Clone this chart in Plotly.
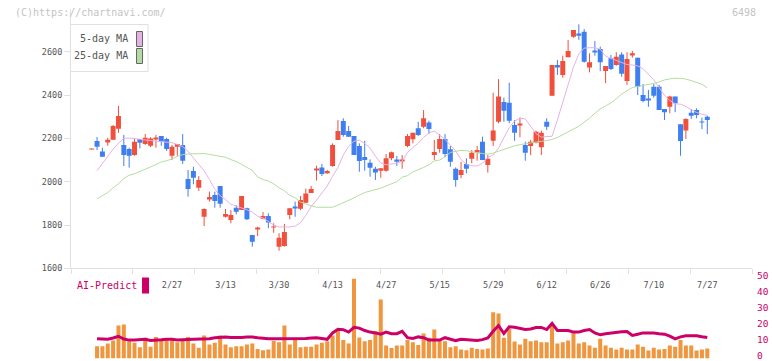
import plotly.graph_objects as go

# ---------------- data ----------------
opens = [2149, 2188, 2139, 2185, 2194, 2245, 2170, 2151, 2123, 2197,
         2174, 2166, 2196, 2211, 2197, 2120, 2162, 2170, 2012, 2049,
         1972, 1838, 1921, 1939, 1980, 1838, 1823, 1880, 1869, 1877,
         1754, 1781, 1829, 1842, 1789, 1700, 1703, 1846, 1885, 1875,
         1903, 1948, 2054, 2066, 2039, 2073, 2193, 2280, 2234, 2211,
         2165, 2114, 2088, 2060, 2051, 2051, 2108, 2103, 2096, 2165,
         2196, 2247, 2254, 2273, 2123, 2151, 2197, 2150, 2060, 2031,
         2082, 2106, 2134, 2185, 2077, 2189, 2277, 2368, 2365, 2262,
         2264, 2170, 2165, 2180, 2159, 2277, 2397, 2539, 2493, 2575,
         2670, 2685, 2693, 2527, 2604, 2613, 2511, 2570, 2539, 2588,
         2465, 2585, 2573, 2400, 2382, 2439, 2439, 2336, 2346, 2393,
         2265, 2236, 2319, 2331, 2276, 2300]
highs = [2153, 2206, 2157, 2203, 2262, 2350, 2216, 2157, 2197, 2197,
         2220, 2206, 2216, 2211, 2203, 2170, 2174, 2220, 2054, 2069,
         2026, 1877, 1954, 1954, 1980, 1874, 1869, 1892, 1934, 1880,
         1754, 1792, 1860, 1854, 1808, 1762, 1805, 1877, 1908, 1934,
         1968, 1980, 2074, 2082, 2054, 2177, 2285, 2293, 2257, 2211,
         2177, 2189, 2103, 2069, 2062, 2128, 2139, 2119, 2123, 2220,
         2226, 2277, 2331, 2282, 2193, 2220, 2220, 2165, 2066, 2092,
         2108, 2146, 2165, 2208, 2123, 2411, 2474, 2388, 2457, 2285,
         2297, 2185, 2193, 2236, 2236, 2293, 2539, 2562, 2582, 2655,
         2701, 2727, 2705, 2593, 2650, 2624, 2534, 2585, 2598, 2598,
         2598, 2604, 2573, 2451, 2424, 2451, 2447, 2336, 2397, 2393,
         2265, 2293, 2336, 2339, 2296, 2305]
lows = [2149, 2146, 2115, 2166, 2194, 2226, 2072, 2065, 2120, 2154,
        2170, 2160, 2157, 2166, 2142, 2100, 2120, 2082, 1931, 1988,
        1957, 1795, 1908, 1880, 1880, 1834, 1808, 1849, 1869, 1823,
        1700, 1749, 1826, 1785, 1764, 1681, 1700, 1826, 1838, 1869,
        1903, 1948, 2005, 2026, 2036, 2069, 2193, 2208, 2208, 2123,
        2046, 2051, 2023, 2008, 2018, 2046, 2099, 2073, 2060, 2159,
        2177, 2211, 2247, 2220, 2100, 2134, 2113, 2069, 1977, 2016,
        2039, 2085, 2097, 2100, 2042, 2165, 2270, 2277, 2270, 2189,
        2205, 2097, 2123, 2177, 2123, 2239, 2397, 2493, 2480, 2575,
        2665, 2655, 2550, 2505, 2582, 2511, 2455, 2516, 2536, 2485,
        2447, 2573, 2400, 2367, 2346, 2388, 2331, 2285, 2316, 2321,
        2120, 2197, 2290, 2293, 2243, 2220]
closes = [2153, 2162, 2115, 2194, 2257, 2303, 2123, 2120, 2185, 2180,
          2203, 2200, 2203, 2185, 2151, 2162, 2174, 2097, 1966, 2018,
          2008, 1874, 1929, 1911, 1898, 1851, 1846, 1861, 1934, 1826,
          1723, 1785, 1842, 1811, 1792, 1741, 1768, 1877, 1877, 1915,
          1946, 1966, 2057, 2036, 2049, 2170, 2234, 2216, 2208, 2123,
          2096, 2100, 2065, 2042, 2062, 2108, 2136, 2092, 2103, 2211,
          2226, 2216, 2293, 2243, 2137, 2197, 2128, 2092, 2008, 2054,
          2060, 2134, 2146, 2100, 2106, 2236, 2393, 2328, 2282, 2226,
          2267, 2134, 2185, 2231, 2226, 2254, 2539, 2527, 2558, 2604,
          2701, 2674, 2554, 2552, 2598, 2552, 2534, 2521, 2577, 2499,
          2567, 2593, 2439, 2373, 2376, 2397, 2331, 2321, 2393, 2362,
          2188, 2290, 2305, 2308, 2274, 2285]

ma5 = [None, 2051, 2085, 2118, 2150, 2178, 2200, 2202, 2200, 2195,
       2193, 2190, 2188, 2186, 2185, 2180, 2172, 2163, 2140, 2110,
       2085, 2050, 2010, 1965, 1935, 1918, 1896, 1888, 1878, 1870,
       1860, 1840, 1832, 1815, 1800, 1791, 1791, 1791, 1795, 1810,
       1845, 1885, 1915, 1945, 1980, 2025, 2066, 2123, 2163, 2187,
       2192, 2177, 2155, 2118, 2086, 2078, 2082, 2085, 2095, 2135,
       2158, 2178, 2205, 2225, 2234, 2217, 2196, 2168, 2142, 2102,
       2080, 2073, 2073, 2085, 2113, 2123, 2155, 2203, 2250, 2280,
       2294, 2290, 2258, 2222, 2206, 2208, 2210, 2285, 2370, 2450,
       2530, 2590, 2617, 2619, 2619, 2612, 2580, 2570, 2560, 2548,
       2541, 2539, 2535, 2522, 2495, 2470, 2435, 2400, 2375, 2360,
       2358, 2348, 2333, 2320, 2312, 2306]
ma25 = [None, 1921, 1936, 1950, 1972, 1990, 2015, 2030, 2037, 2046,
        2058, 2068, 2080, 2091, 2097, 2105, 2117, 2125, 2128, 2129,
        2130, 2130, 2126, 2121, 2117, 2113, 2102, 2093, 2080, 2066,
        2052, 2022, 2010, 2003, 1990, 1972, 1958, 1937, 1926, 1906,
        1896, 1889, 1882, 1882, 1882, 1882, 1892, 1902, 1913, 1925,
        1938, 1950, 1957, 1963, 1970, 1980, 1990, 2000, 2021, 2028,
        2045, 2054, 2066, 2078, 2096, 2100, 2115, 2135, 2140, 2145,
        2143, 2138, 2133, 2130, 2127, 2132, 2141, 2150, 2158, 2166,
        2171, 2176, 2180, 2183, 2186, 2190, 2195, 2204, 2218, 2233,
        2243, 2256, 2274, 2294, 2316, 2336, 2350, 2364, 2383, 2404,
        2420, 2435, 2440, 2444, 2449, 2454, 2461, 2470, 2475, 2478,
        2477, 2474, 2467, 2460, 2450, 2434]

volume = [None, 7.7, 7.7, 9.4, 11.2, 20.6, 21.2, 10.8, 9.8, 7.1,
          12.9, 7.3, 13.5, 11.0, 11.5, 11.5, 10.2, 11.0, 13.5, 9.4,
          6.7, 14.4, 8.8, 9.8, 14.4, 8.8, 7.1, 7.7, 7.7, 8.8,
          9.4, 6.0, 5.2, 5.6, 11.0, 10.2, 20.6, 8.8, 12.9, 7.1,
          7.3, 7.3, 8.8, 9.8, 10.8, 14.4, 17.7, 11.5, 9.4, 50.0,
          13.1, 10.8, 11.5, 17.1, 36.9, 8.1, 6.5, 8.1, 8.1, 11.5,
          10.2, 8.4, 15.6, 12.9, 18.1, 11.5, 10.8, 7.1, 7.7, 5.6,
          5.2, 6.7, 6.0, 5.6, 6.2, 28.9, 28.1, 12.9, 18.5, 10.6,
          8.8, 12.3, 10.8, 11.3, 10.2, 10.2, 21.2, 9.4, 10.2, 11.3,
          16.5, 9.4, 10.2, 8.1, 6.7, 12.3, 8.1, 6.7, 5.6, 6.7,
          5.6, 5.6, 8.8, 7.3, 5.0, 6.7, 5.6, 6.0, 8.1, 7.3,
          11.5, 8.1, 8.1, 5.0, 5.6, 6.2]
ai_predict = [None, 12.3, 12.1, 12.0, 12.8, 13.9, 12.2, 11.5, 11.5, 11.8,
              12.0, 11.3, 11.3, 11.7, 12.0, 12.0, 11.5, 11.5, 11.8, 12.0,
              12.0, 12.0, 12.3, 13.0, 13.3, 13.5, 13.2, 13.0, 13.2, 13.4,
              13.5, 13.0, 12.5, 12.3, 12.3, 12.3, 12.3, 12.3, 12.3, 12.4,
              12.5, 12.8, 13.0, 12.5, 12.0, 16.0, 18.3, 18.0, 16.5, 19.5,
              19.0, 17.5, 16.5, 16.0, 15.2, 16.5, 15.5, 15.5, 17.0, 13.0,
              12.5, 13.5, 13.0, 11.5, 11.5, 11.5, 13.0, 12.0, 11.2, 12.0,
              11.8, 11.5, 11.2, 11.8, 12.8, 17.0, 20.6, 15.6, 19.8, 19.5,
              18.9, 18.1, 18.5, 19.4, 19.4, 18.1, 21.9, 17.5, 17.5, 17.5,
              16.5, 16.5, 17.5, 18.1, 16.0, 14.8, 15.5, 16.0, 16.3, 16.7,
              16.9, 14.4, 15.2, 16.0, 16.0, 16.0, 15.5, 15.2, 14.0, 12.3,
              13.5, 14.2, 14.2, 14.2, 13.6, 13.1]

tick_labels = ["2/27", "3/13", "3/30", "4/13", "4/27", "5/15", "5/29",
               "6/12", "6/26", "7/10", "7/27"]
tick_label_idx = [15, 25, 35, 45, 55, 65, 75, 85, 95, 105, 115]
price_ticks = [1600, 1800, 2000, 2200, 2400, 2600]
vol_ticks = [0, 10, 20, 30, 40, 50]

# ---------------- styling / layout constants ----------------
W, H = 772, 361
RED, BLUE = "#f0503c", "#3f7ff0"
PINK, GREEN = "#e6b2e6", "#b4dca2"
ORANGE, MAGENTA = "#f0963e", "#cc0066"
AXIS = "#e0e0e0"
FONT = "DejaVu Sans Mono"

def px(x):
    return x / W

def py(y):
    return 1 - y / H

x_left_px, x_right_px = 71, 752
first_px, step_px = 91.7, 5.353
x_range = [(x_left_px - first_px) / step_px, (x_right_px - first_px) / step_px]
n_div = 11
minor_vals = [x_range[0] + k * (x_range[1] - x_range[0]) / n_div for k in range(n_div + 1)]

xs = list(range(len(opens)))

fig = go.Figure()

# wicks
for is_up, col in ((True, RED), (False, BLUE)):
    wx, wy = [], []
    for i in xs:
        if (closes[i] >= opens[i]) == is_up:
            wx += [i, i, None]
            wy += [lows[i], highs[i], None]
    fig.add_trace(go.Scatter(x=wx, y=wy, mode="lines", line=dict(color=col, width=1),
                             hoverinfo="skip", showlegend=False, xaxis="x", yaxis="y"))

# bodies
for is_up, col in ((True, RED), (False, BLUE)):
    bx, bb, bh = [], [], []
    for i in xs:
        if (closes[i] >= opens[i]) == is_up:
            bx.append(i)
            bb.append(min(opens[i], closes[i]))
            bh.append(max(abs(closes[i] - opens[i]), 4))
    fig.add_trace(go.Bar(x=bx, y=bh, base=bb, width=0.93, marker=dict(color=col, line=dict(width=0)),
                         showlegend=False, xaxis="x", yaxis="y"))

fig.add_trace(go.Scatter(x=xs, y=ma5, mode="lines", line=dict(color=PINK, width=1),
                         showlegend=False, xaxis="x", yaxis="y"))
fig.add_trace(go.Scatter(x=xs, y=ma25, mode="lines", line=dict(color=GREEN, width=1),
                         showlegend=False, xaxis="x", yaxis="y"))

# volume + AI predict
fig.add_trace(go.Bar(x=xs, y=volume, width=0.75, marker=dict(color=ORANGE, line=dict(width=0)),
                     showlegend=False, xaxis="x2", yaxis="y2"))
fig.add_trace(go.Scatter(x=xs, y=ai_predict, mode="lines", line=dict(color=MAGENTA, width=3),
                         showlegend=False, xaxis="x2", yaxis="y2"))

y_bot_px, y_top_px = 268.3, 8.5
v_bot_px, v_top_px = 358.5, 278.5

fig.update_layout(
    width=W, height=H, autosize=False,
    margin=dict(l=0, r=0, t=0, b=0, pad=0),
    paper_bgcolor="white", plot_bgcolor="white",
    barmode="overlay", showlegend=False,
    font=dict(family=FONT, color="#555555"),
    xaxis=dict(domain=[px(x_left_px), px(x_right_px)], range=x_range, anchor="y", automargin=False,
               showline=True, linecolor=AXIS, linewidth=1, showgrid=False, zeroline=False,
               tickmode="array", tickvals=tick_label_idx, ticktext=tick_labels, ticks="",
               tickfont=dict(size=8.5, color="#555555", family=FONT), ticklabelstandoff=8,
               minor=dict(tickmode="array", tickvals=minor_vals, ticks="outside", ticklen=5,
                          tickcolor=AXIS, tickwidth=1, showgrid=False)),
    yaxis=dict(domain=[py(y_bot_px), py(y_top_px)], range=[1600, 2800], anchor="x", automargin=False,
               showline=True, linecolor=AXIS, linewidth=1, showgrid=False, zeroline=False,
               tickmode="array", tickvals=price_ticks, ticks="outside", ticklen=6,
               tickcolor=AXIS, tickfont=dict(size=8.5, color="#555555", family=FONT)),
    xaxis2=dict(domain=[px(x_left_px), px(x_right_px)], range=x_range, anchor="y2", automargin=False,
                visible=False, showgrid=False, zeroline=False),
    yaxis2=dict(domain=[py(v_bot_px), py(v_top_px)], range=[0, 50], anchor="x2", side="right",
                automargin=False, showline=False, showgrid=False, zeroline=False, tickmode="array",
                tickvals=vol_ticks, ticks="", ticklabelstandoff=4, ticklabeloverflow="allow",
                ticklabelshift=-3,
                tickfont=dict(size=9.5, color=MAGENTA, family=FONT)),
)

# legend box (5-day / 25-day MA)
fig.add_shape(type="rect", xref="paper", yref="paper", x0=px(70.5), x1=px(148), y0=py(71.5), y1=py(24.5),
              line=dict(color=AXIS, width=1), fillcolor="white", layer="above")
fig.add_shape(type="rect", xref="paper", yref="paper", x0=px(136.5), x1=px(142.5), y0=py(46.5), y1=py(31.5),
              line=dict(color="#666666", width=1), fillcolor=PINK, layer="above")
fig.add_shape(type="rect", xref="paper", yref="paper", x0=px(136.5), x1=px(142.5), y0=py(63.5), y1=py(48.5),
              line=dict(color="#666666", width=1), fillcolor=GREEN, layer="above")
for txt, yc in (("5-day MA", 39), ("25-day MA", 56)):
    fig.add_annotation(xref="paper", yref="paper", x=px(130), y=py(yc), text=txt, showarrow=False,
                       xanchor="right", yanchor="middle", font=dict(size=10, color="#555555", family=FONT))

# AI-Predict label
fig.add_annotation(xref="paper", yref="paper", x=px(75), y=py(285), text="AI-Predict", showarrow=False,
                   xanchor="left", yanchor="middle", font=dict(size=10, color=MAGENTA, family=FONT))
fig.add_shape(type="rect", xref="paper", yref="paper", x0=px(142), x1=px(149), y0=py(293.5), y1=py(277.5),
              line=dict(width=0), fillcolor=MAGENTA)

# header texts
fig.add_annotation(xref="paper", yref="paper", x=px(13), y=py(12), text="(C)https://chartnavi.com/",
                   showarrow=False, xanchor="left", yanchor="middle",
                   font=dict(size=10, color="#c4c4c4", family=FONT))
fig.add_annotation(xref="paper", yref="paper", x=px(758), y=py(12), text="6498",
                   showarrow=False, xanchor="right", yanchor="middle",
                   font=dict(size=10, color="#c4c4c4", family=FONT))

fig.write_html("out.html")
